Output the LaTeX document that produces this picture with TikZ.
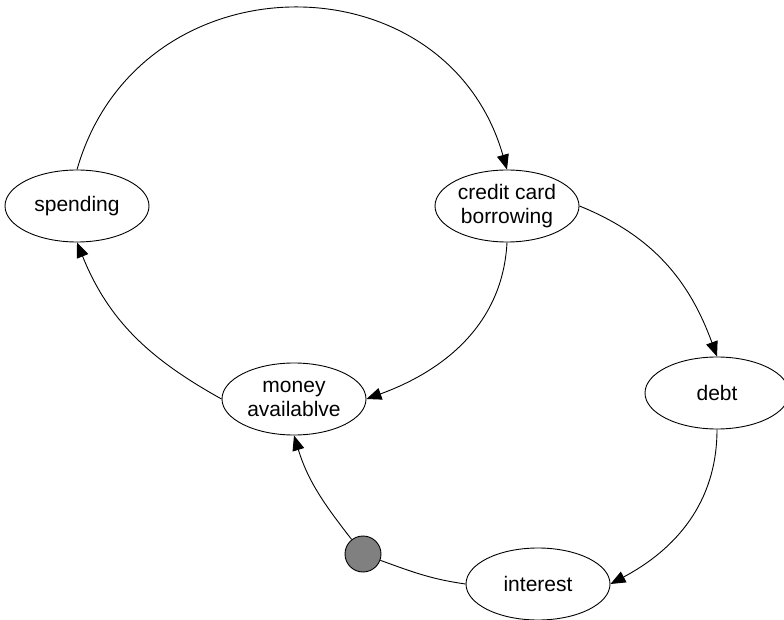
\documentclass[tikz,border=0pt]{standalone}
\usepackage{fontspec}
\setmainfont{Liberation Sans}
\usetikzlibrary{shapes.geometric,arrows.meta}

\definecolor{knotgray}{RGB}{128,128,128}

\tikzset{
  state/.style={ellipse, draw=black, line width=0.9pt, fill=white,
    minimum width=144pt, minimum height=72pt, inner sep=0pt,
    align=center, font=\fontsize{21}{24}\selectfont},
  knot/.style={circle, draw=black, line width=0.9pt, fill=knotgray,
    minimum size=36pt, inner sep=0pt},
  link/.style={line width=0.9pt, draw=black},
  arrowlink/.style={link, -{Triangle[length=15pt,width=12pt]}}
}

\begin{document}
\begin{tikzpicture}[x=1pt,y=1pt]
  \useasboundingbox (0,0) rectangle (784,619);

  % states of the cycle
  \node[state] (spending) at (77,413) {spending};
  \node[state] (credit)   at (507,413) {credit card\\borrowing};
  \node[state] (money)    at (294,220) {money\\availablve};
  \node[state] (debt)     at (717,226) {debt};
  \node[state] (interest) at (538,35)  {interest};
  \node[knot]  (dot)      at (363,65)  {};

  % connections
  \draw[arrowlink] (spending.north) to[out=74, in=106, looseness=1.33] (credit.north);
  \draw[arrowlink] (credit.east)   to[out=-22, in=110] (debt.north);
  \draw[arrowlink] (credit.south)  to[out=-93, in=20]  (money.east);
  \draw[arrowlink] (money.west)    to[out=151, in=-68] (spending.south);
  \draw[arrowlink] (debt.south)    to[out=-90, in=28]  (interest.east);
  \draw[link]      (interest.west) to[out=172, in=-20] (dot);
  \draw[arrowlink] (dot)           to[out=128, in=-73] (money.south);
\end{tikzpicture}
\end{document}
